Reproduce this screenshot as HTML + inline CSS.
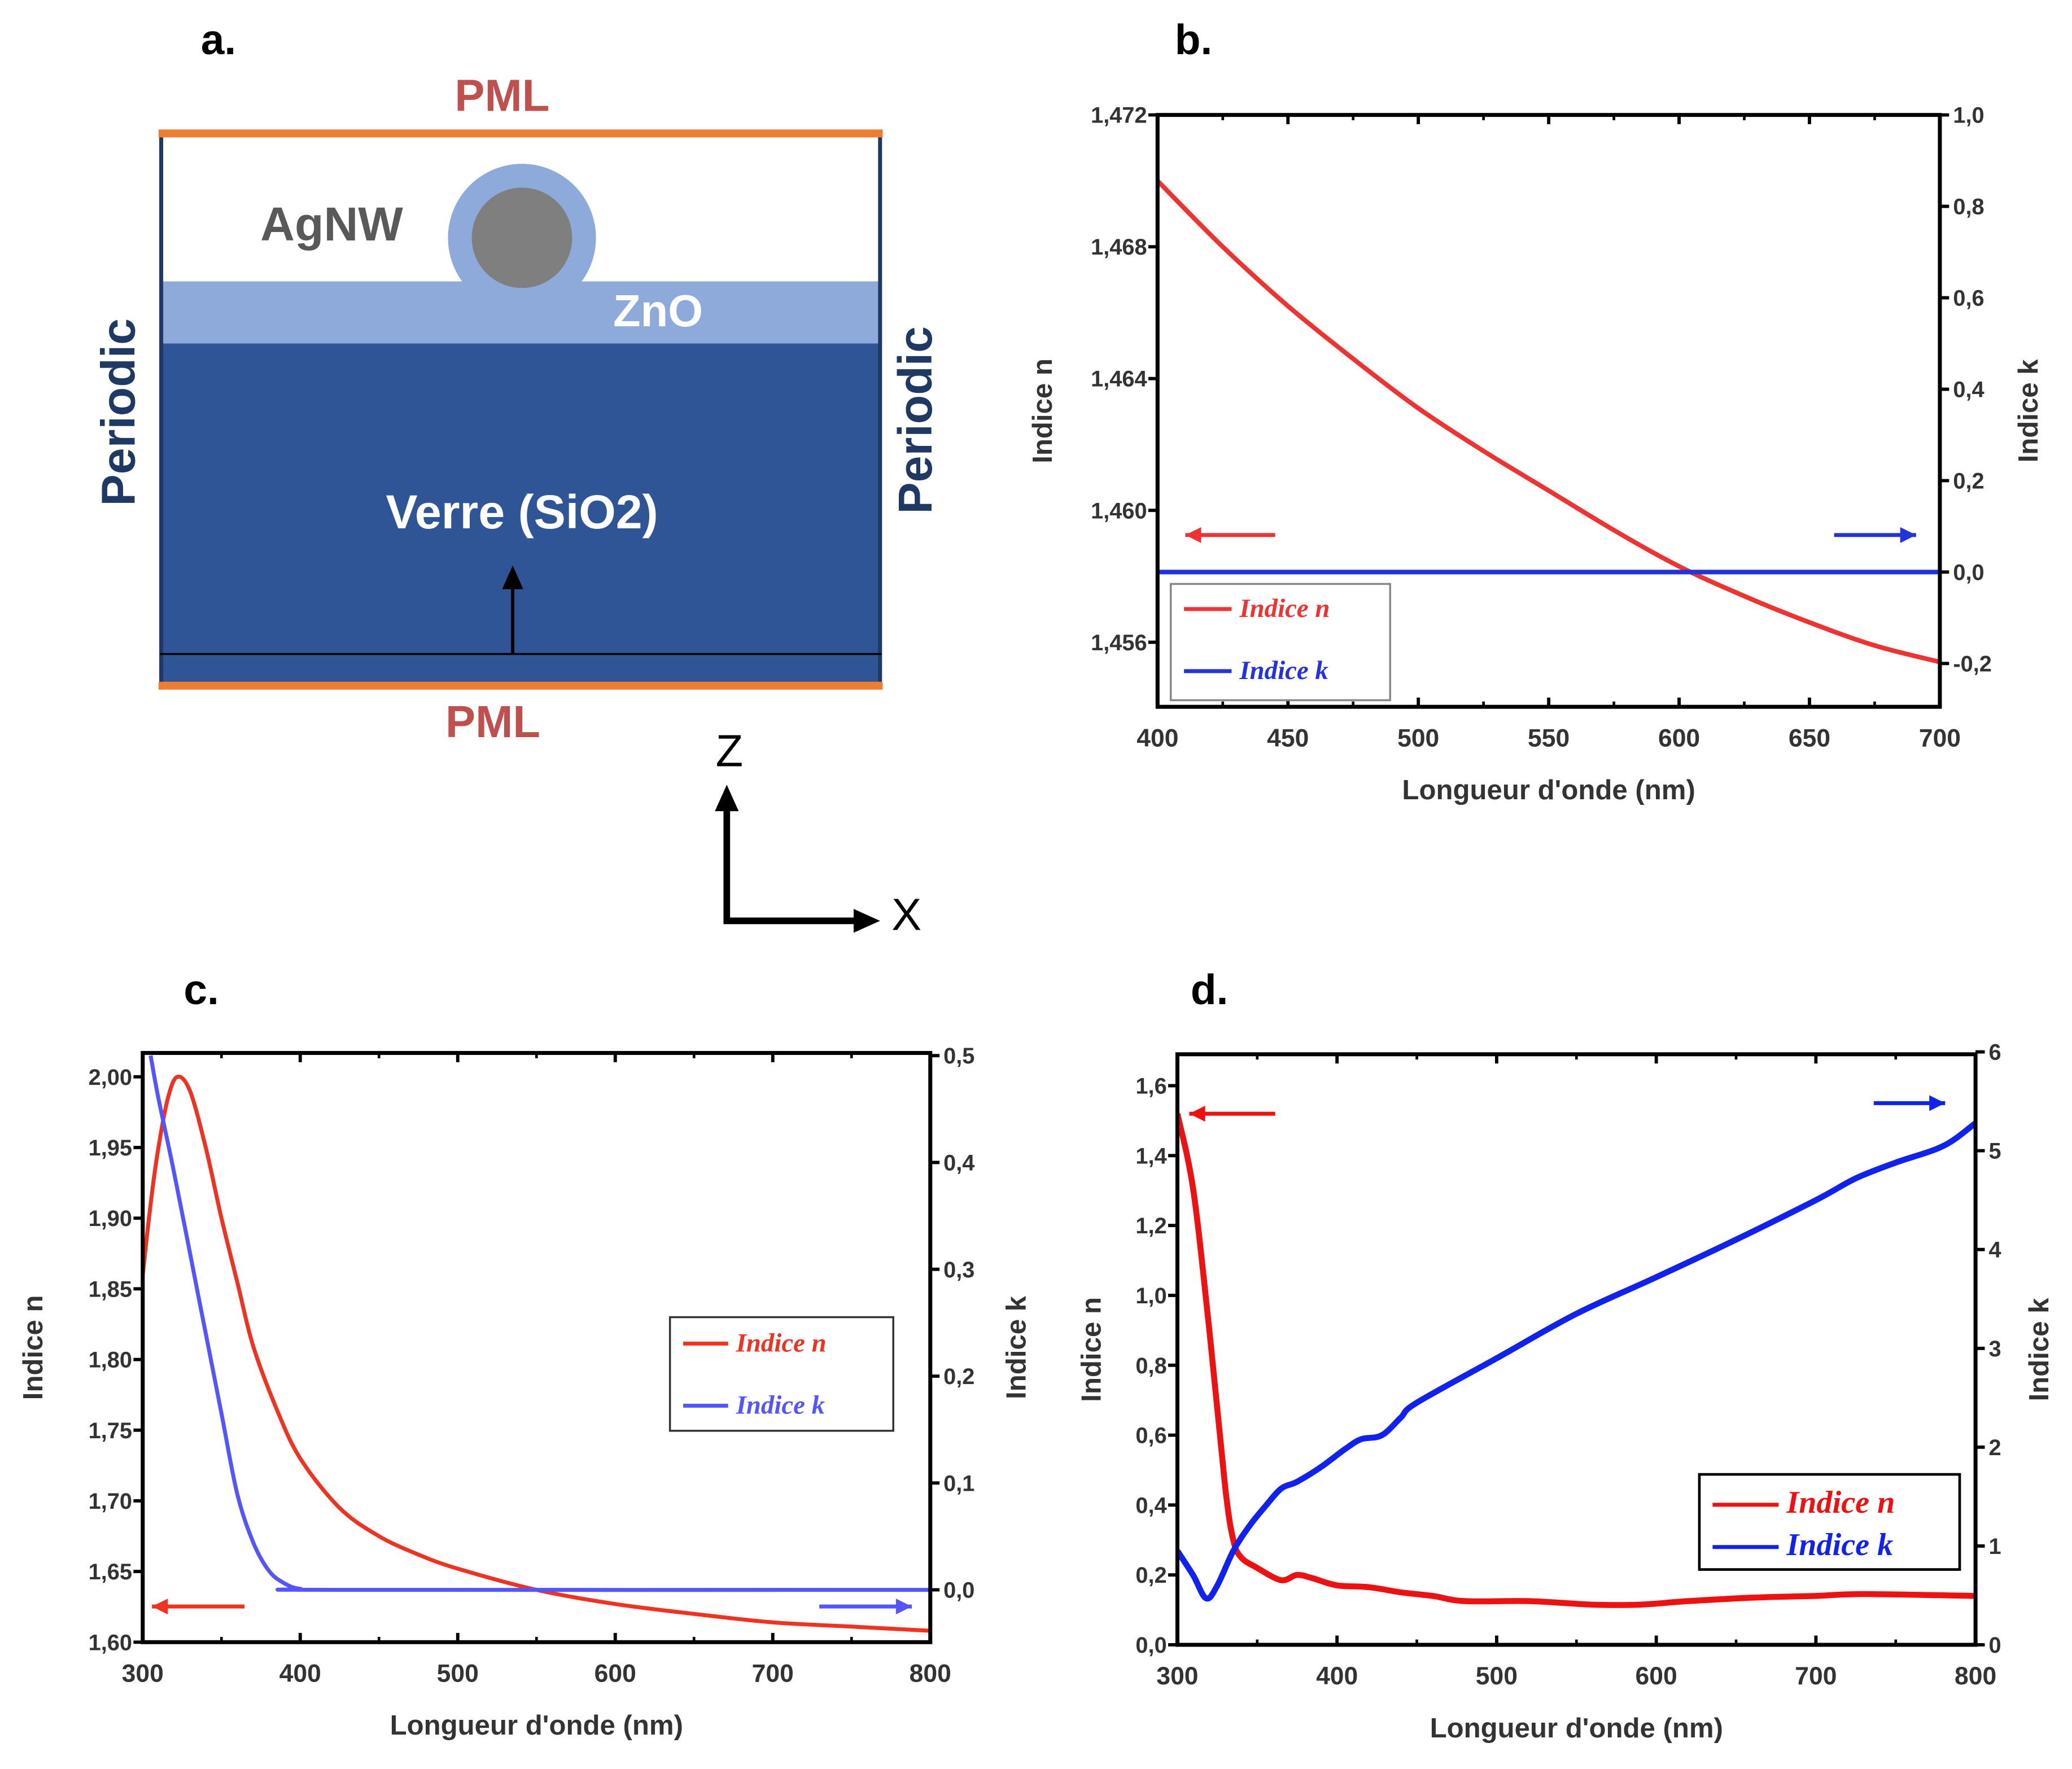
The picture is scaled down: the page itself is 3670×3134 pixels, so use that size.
<!DOCTYPE html>
<html><head><meta charset="utf-8"><style>
html,body{margin:0;padding:0;background:#fff}
svg{display:block}
text{font-family:"Liberation Sans",sans-serif}
text.leg{font-family:"Liberation Serif",serif;font-style:italic;font-weight:bold}
</style></head><body>
<svg id="fig" width="3670" height="3134" viewBox="0 0 1568 1339" xmlns="http://www.w3.org/2000/svg">
<g>
  <text x="152" y="41" font-size="32" font-weight="bold">a.</text>
  <rect x="121" y="258" width="546" height="262" fill="#2f5597"/>
  <rect x="121" y="213" width="546" height="47" fill="#8eaadb"/>
  <circle cx="395" cy="180" r="56" fill="#8eaadb"/>
  <circle cx="395" cy="180" r="38" fill="#7f7f7f"/>
  <line x1="122" y1="100" x2="122" y2="520" stroke="#1f3864" stroke-width="3"/>
  <line x1="666" y1="100" x2="666" y2="520" stroke="#1f3864" stroke-width="3"/>
  <line x1="120" y1="101" x2="668" y2="101" stroke="#ed7d31" stroke-width="6"/>
  <line x1="120" y1="519" x2="668" y2="519" stroke="#ed7d31" stroke-width="6"/>
  <line x1="121" y1="495" x2="667" y2="495" stroke="#000" stroke-width="1.5"/>
  <line x1="388" y1="495" x2="388" y2="442" stroke="#000" stroke-width="2.5"/>
  <polygon points="388,428 380,446 396,446" fill="#000"/>
  <text x="380" y="84" font-size="34" font-weight="bold" fill="#c0504d" text-anchor="middle">PML</text>
  <text x="373" y="558" font-size="34" font-weight="bold" fill="#c0504d" text-anchor="middle">PML</text>
  <text x="251" y="182" font-size="36" font-weight="bold" fill="#595959" text-anchor="middle">AgNW</text>
  <text x="498" y="247" font-size="34" font-weight="bold" fill="#fff" text-anchor="middle">ZnO</text>
  <text x="395" y="400" font-size="36" font-weight="bold" fill="#fff" text-anchor="middle">Verre (SiO2)</text>
  <text transform="translate(102,312) rotate(-90)" font-size="36" font-weight="bold" fill="#1f3864" text-anchor="middle">Periodic</text>
  <text transform="translate(705,318) rotate(-90)" font-size="36" font-weight="bold" fill="#1f3864" text-anchor="middle">Periodic</text>
  <polyline points="550,610 550,697 650,697" fill="none" stroke="#000" stroke-width="5"/>
  <polygon points="550,594 541,614 559,614" fill="#000"/>
  <polygon points="666,697 646,688 646,706" fill="#000"/>
  <text x="552" y="580" font-size="34" text-anchor="middle">Z</text>
  <text x="686" y="704" font-size="34" text-anchor="middle">X</text>
</g>
<text x="889" y="41" font-size="32" font-weight="bold">b.</text>
<text x="139" y="760" font-size="32" font-weight="bold">c.</text>
<text x="901" y="760" font-size="32" font-weight="bold">d.</text>
<g id="charts"></g>
</svg>
<script>
// Panel b data
const bX = [400,425,450,475,500,525,550,575,600,625,650,675,700];
const bN = [1.4700,1.4680,1.4662,1.4646,1.4631,1.4618,1.4606,1.4594,1.4583,1.4574,1.4566,1.4559,1.4554];
const bKX = [400,700];
const bK = [0,0];
const bXTicks = [400,450,500,550,600,650,700];
const bYTicks = [1.456,1.460,1.464,1.468,1.472];
const bYTickLabels = ["1,456","1,460","1,464","1,468","1,472"];
const bY2Ticks = [-0.2,0,0.2,0.4,0.6,0.8,1.0];
const bY2TickLabels = ["-0,2","0,0","0,2","0,4","0,6","0,8","1,0"];
// Panel c data
const cNX = [300,305,310,316,322,330,340,350,360,370,385,400,425,450,475,500,550,600,650,700,750,800];
const cN = [1.86,1.91,1.95,1.985,2.00,1.99,1.95,1.90,1.855,1.81,1.765,1.73,1.695,1.675,1.662,1.652,1.637,1.627,1.620,1.614,1.611,1.608];
const cKX = [305,310,320,330,340,350,360,370,380,390,400,420,800];
const cK = [0.5,0.46,0.39,0.315,0.24,0.165,0.09,0.045,0.018,0.006,0.001,0,0];
const cXTicks = [300,400,500,600,700,800];
const cYTicks = [1.60,1.65,1.70,1.75,1.80,1.85,1.90,1.95,2.00];
const cYTickLabels = ["1,60","1,65","1,70","1,75","1,80","1,85","1,90","1,95","2,00"];
const cY2Ticks = [0,0.1,0.2,0.3,0.4,0.5];
const cY2TickLabels = ["0,0","0,1","0,2","0,3","0,4","0,5"];
// Panel d data
const dNX = [300,310,320,330,335,340,350,365,375,385,400,420,440,460,480,520,560,590,620,660,700,730,800];
const dN = [1.52,1.30,0.90,0.45,0.30,0.25,0.22,0.185,0.20,0.19,0.17,0.165,0.15,0.14,0.125,0.125,0.115,0.115,0.125,0.135,0.14,0.145,0.14];
const dKX = [300,310,318,325,335,345,355,365,375,390,405,415,428,440,450,500,550,600,650,700,725,750,780,800];
const dK = [0.95,0.7,0.47,0.6,0.95,1.2,1.4,1.58,1.65,1.8,1.98,2.08,2.12,2.3,2.45,2.9,3.35,3.72,4.1,4.5,4.72,4.88,5.05,5.28];
const dXTicks = [300,400,500,600,700,800];
const dYTicks = [0,0.2,0.4,0.6,0.8,1.0,1.2,1.4,1.6];
const dYTickLabels = ["0,0","0,2","0,4","0,6","0,8","1,0","1,2","1,4","1,6"];
const dY2Ticks = [0,1,2,3,4,5,6];
const dY2TickLabels = ["0","1","2","3","4","5","6"];

const NS = "http://www.w3.org/2000/svg";
const root = document.getElementById('charts');
function mk(tag, attrs, parent, txt) {
  const e = document.createElementNS(NS, tag);
  for (const k in attrs) e.setAttribute(k, attrs[k]);
  if (txt !== undefined) e.textContent = txt;
  (parent || root).appendChild(e);
  return e;
}
function smooth(pts) {
  let d = 'M' + pts[0][0].toFixed(1) + ',' + pts[0][1].toFixed(1);
  for (let i = 0; i < pts.length - 1; i++) {
    const p0 = pts[Math.max(0, i - 1)], p1 = pts[i], p2 = pts[i + 1], p3 = pts[Math.min(pts.length - 1, i + 2)];
    const c1x = p1[0] + (p2[0] - p0[0]) / 6, c1y = p1[1] + (p2[1] - p0[1]) / 6;
    const c2x = p2[0] - (p3[0] - p1[0]) / 6, c2y = p2[1] - (p3[1] - p1[1]) / 6;
    d += ' C' + c1x.toFixed(1) + ',' + c1y.toFixed(1) + ' ' + c2x.toFixed(1) + ',' + c2y.toFixed(1) + ' ' + p2[0].toFixed(1) + ',' + p2[1].toFixed(1);
  }
  return d;
}
function chart(o) {
  const g = mk('g', {});
  
  
  const sx = v => o.L + (v - o.x0) / (o.x1 - o.x0) * (o.R - o.L);
  const sy = v => o.B - (v - o.y0) / (o.y1 - o.y0) * (o.B - o.T);
  const sy2 = v => o.B - (v - o.k0) / (o.k1 - o.k0) * (o.B - o.T);
  const cp = mk('clipPath', {id: 'clip-' + o.name}, g);
  mk('rect', {x: o.L, y: o.T, width: o.R - o.L, height: o.B - o.T}, cp);
  const path = (xs, ys, f, col, w, nm) => {
    const pts = xs.map((x, i) => [sx(x), f(ys[i])]);
    const p = mk('path', {d: smooth(pts), fill: 'none', stroke: col, 'stroke-width': w, 'stroke-linejoin': 'round', 'clip-path': 'url(#clip-' + o.name + ')'}, g);
    
    
  };
  path(o.nx, o.n, sy, o.nCol, o.w, 'series-indice-n');
  path(o.kx, o.k, sy2, o.kCol, o.w, 'series-indice-k');
  const fr = mk('rect', {x: o.L, y: o.T, width: o.R - o.L, height: o.B - o.T, fill: 'none', stroke: '#000', 'stroke-width': 3}, g);
  
  
  o.xt.forEach((v, i) => {
    const x = sx(v);
    mk('line', {x1: x, y1: o.B, x2: x, y2: o.B - 7, stroke: '#000', 'stroke-width': 2.5}, g);
    mk('line', {x1: x, y1: o.T, x2: x, y2: o.T + 7, stroke: '#000', 'stroke-width': 2.5}, g);
    if (i < o.xt.length - 1) {
      const xm = sx((v + o.xt[i + 1]) / 2);
      mk('line', {x1: xm, y1: o.B, x2: xm, y2: o.B - 4, stroke: '#000', 'stroke-width': 2}, g);
      mk('line', {x1: xm, y1: o.T, x2: xm, y2: o.T + 4, stroke: '#000', 'stroke-width': 2}, g);
    }
    const t = mk('text', {x: x, y: o.B + 30, 'font-size': 19, 'font-weight': 'bold', fill: '#333', 'text-anchor': 'middle'}, g, String(v));
    
    
  });
  o.yt.forEach((v, i) => {
    const y = sy(v);
    mk('line', {x1: o.L, y1: y, x2: o.L - 7, y2: y, stroke: '#000', 'stroke-width': 2.5}, g);
    const t = mk('text', {x: o.L - 8, y: y + 6, 'font-size': 17, 'font-weight': 'bold', fill: '#333', 'text-anchor': 'end'}, g, o.ytl[i]);
    
    
  });
  o.y2t.forEach((v, i) => {
    const y = sy2(v);
    mk('line', {x1: o.R, y1: y, x2: o.R + 7, y2: y, stroke: '#000', 'stroke-width': 2.5}, g);
    const t = mk('text', {x: o.R + 10, y: y + 6, 'font-size': 17, 'font-weight': 'bold', fill: '#333'}, g, o.y2tl[i]);
    
    
  });
  const xl = mk('text', {x: (o.L + o.R) / 2, y: o.B + 70, 'font-size': 21, 'font-weight': 'bold', fill: '#333', 'text-anchor': 'middle'}, g, "Longueur d'onde (nm)");
  
  
  const yl = mk('text', {transform: 'translate(' + o.ylx + ',' + (o.T + o.B) / 2 + ') rotate(-90)', 'font-size': 21, 'font-weight': 'bold', fill: '#333', 'text-anchor': 'middle'}, g, 'Indice n');
  
  
  const yr = mk('text', {transform: 'translate(' + o.yrx + ',' + (o.T + o.B) / 2 + ') rotate(-90)', 'font-size': 21, 'font-weight': 'bold', fill: '#333', 'text-anchor': 'middle'}, g, 'Indice k');
  
  
  const ar = (x1, x2, y, col, nm) => {
    const a = mk('g', {}, g);
    
    
    mk('line', {x1: x1, y1: y, x2: x2, y2: y, stroke: col, 'stroke-width': 3}, a);
    const dir = x2 > x1 ? 1 : -1;
    mk('polygon', {points: x2 + ',' + y + ' ' + (x2 - dir * 12) + ',' + (y - 6) + ' ' + (x2 - dir * 12) + ',' + (y + 6), fill: col}, a);
  };
  ar(o.ra[1], o.ra[0], o.ra[2], o.nCol, 'n-axis-arrow');
  ar(o.ba[0], o.ba[1], o.ba[2], o.kCol, 'k-axis-arrow');
  const lg = mk('g', {}, g);
  
  
  const b = o.leg;
  mk('rect', {x: b[0], y: b[1], width: b[2], height: b[3], fill: '#fff', stroke: o.legStroke, 'stroke-width': o.legW}, lg);
  const e1 = mk('g', {}, lg);
  
  
  mk('line', {x1: b[0] + 10, y1: b[4], x2: b[0] + 10 + o.legL, y2: b[4], stroke: o.nCol, 'stroke-width': 3}, e1);
  mk('text', {x: b[0] + 16 + o.legL, y: b[4] + 6, class: 'leg', 'font-size': o.legF, fill: o.nCol}, e1, 'Indice n');
  const e2 = mk('g', {}, lg);
  
  
  mk('line', {x1: b[0] + 10, y1: b[5], x2: b[0] + 10 + o.legL, y2: b[5], stroke: o.kCol, 'stroke-width': 3}, e2);
  mk('text', {x: b[0] + 16 + o.legL, y: b[5] + 6, class: 'leg', 'font-size': o.legF, fill: o.kCol}, e2, 'Indice k');
}
chart({name: 'chart-b', L: 876, R: 1468, T: 87, B: 535, x0: 400, x1: 700, y0: 1.45404, y1: 1.472, k0: -0.2948, k1: 1.0,
  nx: bX, n: bN, kx: bKX, k: bK, nCol: '#ee3333', kCol: '#2233dd', w: 3.5,
  xt: bXTicks, yt: bYTicks, ytl: bYTickLabels, y2t: bY2Ticks, y2tl: bY2TickLabels, ylx: 796, yrx: 1542,
  ra: [897, 965, 405], ba: [1388, 1450, 405], leg: [886, 442, 166, 88, 461, 508], legStroke: '#888', legW: 1.5, legL: 36, legF: 20});
chart({name: 'chart-c', L: 108, R: 704, T: 797, B: 1243, x0: 300, x1: 800, y0: 1.60, y1: 2.0169, k0: -0.049, k1: 0.5025,
  nx: cNX, n: cN, kx: cKX, k: cK, nCol: '#ee3322', kCol: '#5555ff', w: 3,
  xt: cXTicks, yt: cYTicks, ytl: cYTickLabels, y2t: cY2Ticks, y2tl: cY2TickLabels, ylx: 32, yrx: 776,
  ra: [115, 185, 1216], ba: [620, 690, 1216], leg: [507, 997, 169, 86, 1017, 1064], legStroke: '#333', legW: 1.5, legL: 34, legF: 20});
chart({name: 'chart-d', L: 891, R: 1495, T: 798, B: 1245, x0: 300, x1: 800, y0: 0, y1: 1.69, k0: 0, k1: 5.976,
  nx: dNX, n: dN, kx: dKX, k: dK, nCol: '#ee1111', kCol: '#1122ee', w: 4.5,
  xt: dXTicks, yt: dYTicks, ytl: dYTickLabels, y2t: dY2Ticks, y2tl: dY2TickLabels, ylx: 833, yrx: 1550,
  ra: [900, 965, 843], ba: [1418, 1472, 835], leg: [1286, 1116, 197, 72, 1139, 1171], legStroke: '#000', legW: 2, legL: 50, legF: 24});
</script>
</body></html>
